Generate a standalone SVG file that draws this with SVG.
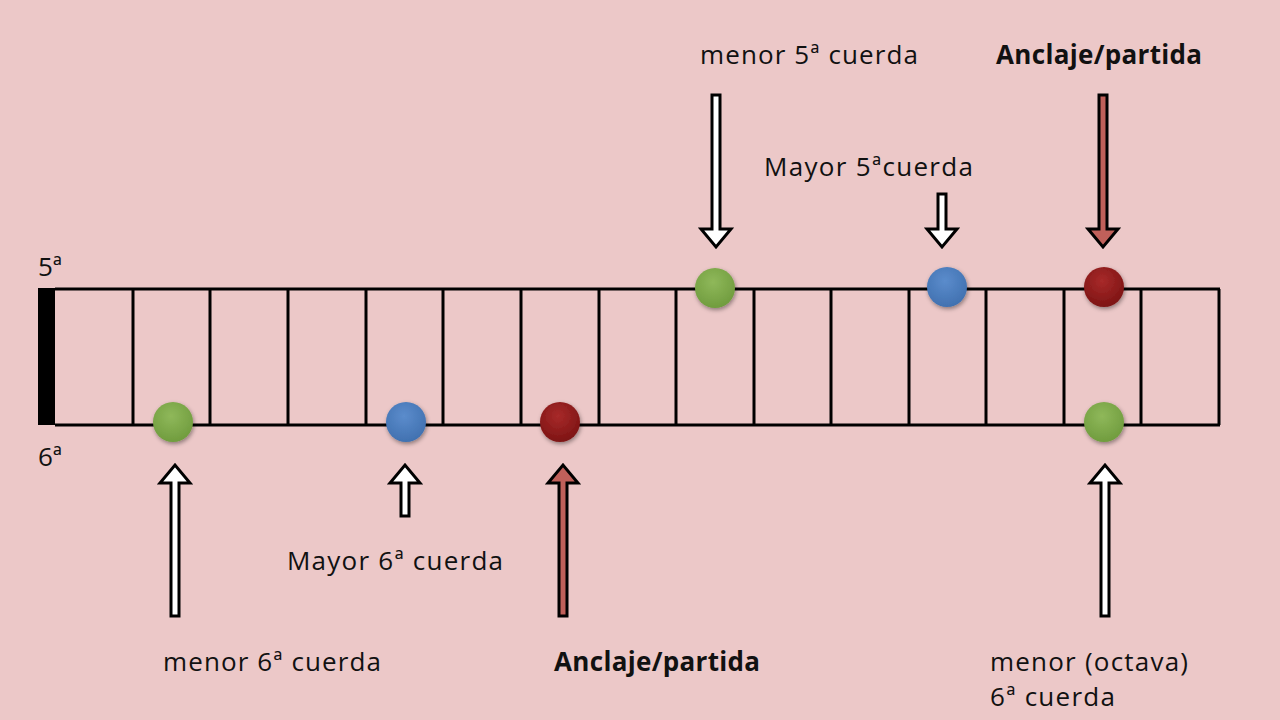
<svg xmlns="http://www.w3.org/2000/svg" width="1280" height="720" viewBox="0 0 1280 720">
<defs>
<radialGradient id="gG" cx="0.45" cy="0.35" r="0.7"><stop offset="0" stop-color="#8fb85a"/><stop offset="1" stop-color="#6e9a3c"/></radialGradient>
<radialGradient id="gB" cx="0.45" cy="0.35" r="0.7"><stop offset="0" stop-color="#5b8ccc"/><stop offset="1" stop-color="#3f6fae"/></radialGradient>
<radialGradient id="gR" cx="0.45" cy="0.35" r="0.7"><stop offset="0" stop-color="#a82a2a"/><stop offset="1" stop-color="#7a1212"/></radialGradient>
<filter id="sh" x="-50%" y="-50%" width="200%" height="200%"><feDropShadow dx="1" dy="2" stdDeviation="2" flood-opacity="0.4"/></filter>
</defs>
<style>
.t{font-family:"Open Sans","Liberation Sans",sans-serif;font-size:26px;fill:#111}
.b{font-weight:bold}
.fr{stroke:#000;stroke-width:3}
.aw{fill:#fff;stroke:#000;stroke-width:3;stroke-linejoin:miter}
.ar{fill:#c0605a;stroke:#000;stroke-width:3}
</style>
<rect width="1280" height="720" fill="#ecc8c8"/>
<g id="fretboard">
<rect x="38" y="288" width="17" height="137" fill="#000"/>
<line class="fr" x1="55" y1="289" x2="1220" y2="289"/>
<line class="fr" x1="55" y1="425" x2="1220" y2="425"/>
<g class="fr">
<line x1="133" y1="289" x2="133" y2="425"/><line x1="210" y1="289" x2="210" y2="425"/><line x1="288" y1="289" x2="288" y2="425"/><line x1="366" y1="289" x2="366" y2="425"/><line x1="443" y1="289" x2="443" y2="425"/><line x1="521" y1="289" x2="521" y2="425"/><line x1="599" y1="289" x2="599" y2="425"/><line x1="676" y1="289" x2="676" y2="425"/><line x1="754" y1="289" x2="754" y2="425"/><line x1="831" y1="289" x2="831" y2="425"/><line x1="909" y1="289" x2="909" y2="425"/><line x1="986" y1="289" x2="986" y2="425"/><line x1="1064" y1="289" x2="1064" y2="425"/><line x1="1141" y1="289" x2="1141" y2="425"/><line x1="1219" y1="289" x2="1219" y2="425"/>
</g>
<text class="t" x="38" y="276">5ª</text>
<text class="t" x="38" y="466">6ª</text>
</g>
<g id="dots" filter="url(#sh)">
<circle cx="715" cy="288" r="20" fill="url(#gG)"/>
<circle cx="947" cy="287" r="20" fill="url(#gB)"/>
<circle cx="1104" cy="287" r="20" fill="url(#gR)"/>
<circle cx="173" cy="422" r="20" fill="url(#gG)"/>
<circle cx="406" cy="422" r="20" fill="url(#gB)"/>
<circle cx="560" cy="422" r="20" fill="url(#gR)"/>
<circle cx="1104" cy="422" r="20" fill="url(#gG)"/>
</g>
<g id="connectors">
<path class="aw" d="M712,95 H720 V229 H731 L716,247 L701,229 H712 Z"/>
<path class="aw" d="M938,194 H946 V229 H957 L942,247 L927,229 H938 Z"/>
<path class="ar" d="M1099,95 H1107 V229 H1118 L1103,247 L1088,229 H1099 Z"/>
<path class="aw" d="M171,616 H179 V483 H190 L175,465 L160,483 H171 Z"/>
<path class="aw" d="M401,516 H409 V483 H420 L405,465 L390,483 H401 Z"/>
<path class="ar" d="M559,616 H567 V483 H578 L563,465 L548,483 H559 Z"/>
<path class="aw" d="M1101,616 H1109 V483 H1120 L1105,465 L1090,483 H1101 Z"/>
</g>
<g id="labels">
<text class="t" x="700" y="64" textLength="218">menor 5ª cuerda</text>
<text class="t b" x="996" y="64" textLength="206">Anclaje/partida</text>
<text class="t" x="764" y="176" textLength="209">Mayor 5ªcuerda</text>
<text class="t" x="287" y="570" textLength="216">Mayor 6ª cuerda</text>
<text class="t" x="163" y="671" textLength="218">menor 6ª cuerda</text>
<text class="t b" x="554" y="671" textLength="206">Anclaje/partida</text>
<text class="t" x="990" y="671" textLength="198">menor (octava)</text>
<text class="t" x="990" y="706" textLength="125">6ª cuerda</text>
</g>
</svg>
